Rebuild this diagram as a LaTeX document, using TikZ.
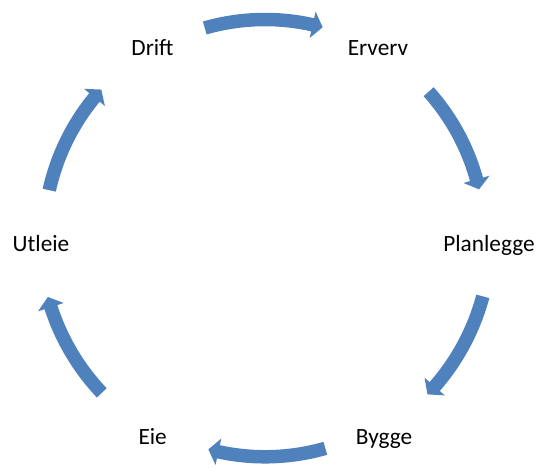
\documentclass[tikz,border=0pt]{standalone}
\usepackage{fontspec}
\setmainfont{Carlito}
\definecolor{accentblue}{HTML}{4F81BD}
\tikzset{
  lbl/.style={anchor=base, inner sep=0pt, font=\fontsize{23.3}{28}\selectfont, text=black},
  arrowfill/.style={fill=accentblue, draw=none}
}
% #1 tail angle, #2 tip angle, #3 radius
\newcommand{\cycarrow}[3]{%
  \pgfmathsetmacro\hbase{#2+2.7}%
  \pgfmathsetmacro\rout{#3+6.75}%
  \pgfmathsetmacro\rin{#3-6.75}%
  \pgfmathsetmacro\hout{#3+13.5}%
  \pgfmathsetmacro\hin{#3-13.5}%
  \begin{scope}[shift={(c)}]
  \fill[arrowfill] (#1:\rout) arc[start angle=#1, end angle=\hbase, radius=\rout]
    -- (\hbase:\hout) -- (#2:#3) -- (\hbase:\hin) -- (\hbase:\rin)
    arc[start angle=\hbase, end angle=#1, radius=\rin] -- cycle;
  \end{scope}}
\begin{document}
\begin{tikzpicture}[x=1pt,y=1pt]
\useasboundingbox (0,0) rectangle (536,475);
\coordinate (c) at (265,237);
\node[lbl] (drift) at (152.5,419.3) {Drift};
\node[lbl] (erverv) at (378,419.3) {Erverv};
\node[lbl] (planlegge) at (489,223.5) {Planlegge};
\node[lbl] (bygge) at (384,30.7) {Bygge};
\node[lbl] (eie) at (152.7,30.7) {Eie};
\node[lbl] (utleie) at (41,223.5) {Utleie};
\cycarrow{106}{74.7}{218.5}
\cycarrow{41.8}{12.8}{219.5}
\cycarrow{-15}{-43.9}{225.5}
\cycarrow{-74}{-105}{218.8}
\cycarrow{-136.5}{-164.8}{225}
\cycarrow{167.5}{137.8}{221}
\end{tikzpicture}
\end{document}
